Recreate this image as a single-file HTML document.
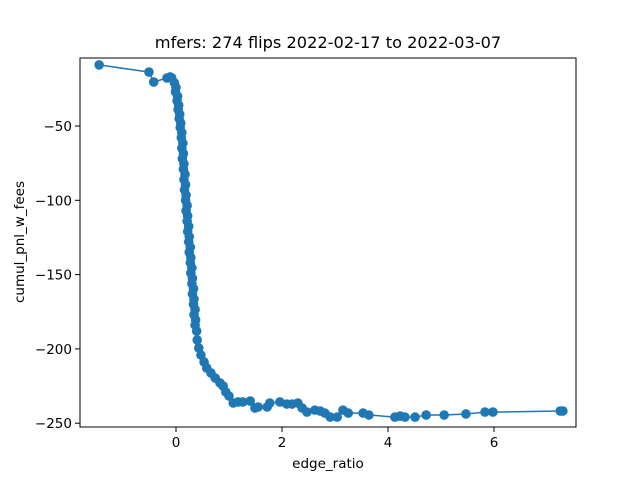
<!DOCTYPE html>
<html><head><meta charset="utf-8"><style>
html,body{margin:0;padding:0;background:#fff;}
svg text{font-family:"DejaVu Sans","Liberation Sans",sans-serif;fill:#000;}
</style></head><body>
<svg id="chart" width="640" height="480" xmlns="http://www.w3.org/2000/svg">
<rect width="640" height="480" fill="#fff"/>
<text x="328" y="48" font-size="16.2" text-anchor="middle">mfers: 274 flips 2022-02-17 to 2022-03-07</text>
<g id="plot"></g>
<rect x="80" y="58" width="496" height="369" fill="none" stroke="#000" stroke-width="1"/>
<g id="xt"></g><g id="yt"></g>
<text x="328" y="468" font-size="13.5" text-anchor="middle">edge_ratio</text>
<text transform="translate(24,242) rotate(-90)" font-size="13.5" text-anchor="middle">cumul_pnl_w_fees</text>
</svg>
<script>
const xVals=[-1.45,-0.51,-0.42,-0.17,-0.11,-0.08,
-0.03,0.00,-0.01,0.03,0.02,0.05,0.04,0.07,0.06,0.09,0.08,0.11,0.10,0.13,0.11,0.14,0.12,0.15,0.14,0.17,0.15,0.18,0.16,0.19,0.18,0.21,0.19,0.22,0.21,0.24,0.22,0.25,0.24,0.27,0.25,0.28,0.27,0.30,0.28,0.31,0.30,0.33,0.31,0.34,0.33,0.36,0.34,0.37,0.36,0.39,
0.40,0.43,0.47,0.53,0.58,0.66,0.74,0.83,0.89,0.94,1.00,1.08,1.17,1.26,1.40,1.49,1.55,1.72,1.77,1.96,2.09,2.19,2.30,2.38,2.47,2.62,2.72,2.81,2.91,3.04,3.15,3.25,3.53,3.64,4.13,4.23,4.32,4.51,4.72,5.06,5.47,5.83,5.98,7.25,7.30];
const yVals=[-8.9,-13.7,-20.4,-17.7,-17,-17.7,
-21,-24,-27,-30,-33,-36,-39,-42,-45,-48,-51,-54.5,-58,-61.5,-65,-68.5,-72,-75.5,-79,-82.5,-86,-89.5,-93,-96.5,-100,-103.5,-107,-110.5,-114,-117.5,-121,-124.5,-128,-131.5,-135,-138.5,-142,-145.5,-149,-152.5,-156,-159.5,-163,-166.5,-170,-173.5,-177,-180.5,-184,-188,
-194,-199.4,-204.1,-208.8,-212.9,-216.2,-219.6,-222.9,-225,-229,-231.7,-236.4,-235.7,-235.7,-235.1,-239.8,-239.1,-239.1,-236.4,-235.7,-237.1,-237.1,-236.4,-239.8,-242.5,-241.2,-241.8,-243.2,-245.9,-245.9,-241.2,-243.2,-243.2,-244.5,-245.9,-245.2,-245.9,-245.9,-244.5,-244.5,-243.8,-242.5,-242.5,-241.8,-241.8];
const xTicks=[0,2,4,6];
const yTicks=[-50,-100,-150,-200,-250];
const NS="http://www.w3.org/2000/svg";
function sx(v){return 176+v*53;}
function sy(v){return 126-(v+50)*1.486;}
const plot=document.getElementById('plot');
let d='';
for(let i=0;i<xVals.length;i++){d+=(i?'L':'M')+sx(xVals[i]).toFixed(1)+','+sy(yVals[i]).toFixed(1);}
const line=document.createElementNS(NS,'path');
line.setAttribute('d',d);line.setAttribute('fill','none');line.setAttribute('stroke','#1f77b4');line.setAttribute('stroke-width','1.5');


plot.appendChild(line);
for(let i=0;i<xVals.length;i++){
const c=document.createElementNS(NS,'circle');
c.setAttribute('cx',sx(xVals[i]));c.setAttribute('cy',sy(yVals[i]));c.setAttribute('r','4.8');c.setAttribute('fill','#1f77b4');


plot.appendChild(c);}
const xt=document.getElementById('xt');
xTicks.forEach(v=>{
const l=document.createElementNS(NS,'line');
l.setAttribute('x1',sx(v));l.setAttribute('x2',sx(v));l.setAttribute('y1',427);l.setAttribute('y2',432);l.setAttribute('stroke','#000');


xt.appendChild(l);
const t=document.createElementNS(NS,'text');
t.setAttribute('x',sx(v));t.setAttribute('y',447);t.setAttribute('font-size','13.5');t.setAttribute('text-anchor','middle');t.textContent=String(v);


xt.appendChild(t);});
const yt=document.getElementById('yt');
yTicks.forEach(v=>{
const l=document.createElementNS(NS,'line');
l.setAttribute('x1',75);l.setAttribute('x2',80);l.setAttribute('y1',sy(v));l.setAttribute('y2',sy(v));l.setAttribute('stroke','#000');


yt.appendChild(l);
const t=document.createElementNS(NS,'text');
t.setAttribute('x',72);t.setAttribute('y',sy(v)+5);t.setAttribute('font-size','13.5');t.setAttribute('text-anchor','end');t.textContent='\u2212'+Math.abs(v);


yt.appendChild(t);});
</script>
</body></html>
